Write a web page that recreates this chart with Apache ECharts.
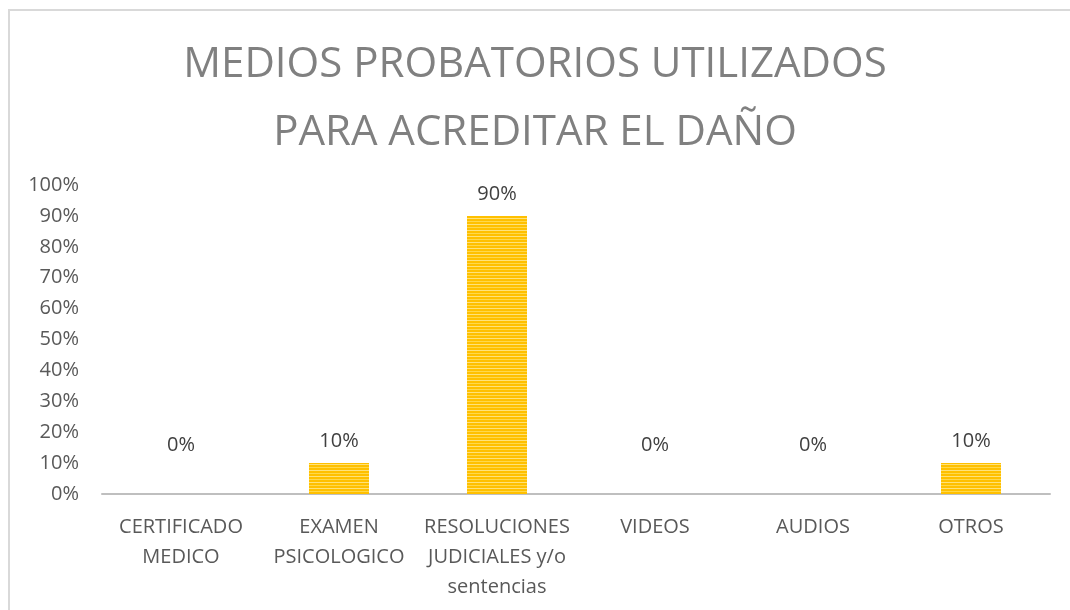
<!DOCTYPE html>
<html><head><meta charset="utf-8">
<script src="https://cdn.jsdelivr.net/npm/echarts@6/dist/echarts.min.js"></script>
<style>html,body{margin:0;padding:0;background:#fff}#c{width:1070px;height:610px}
#frame{position:absolute;left:8px;top:9px;width:1070px;height:610px;border-left:2px solid #d9d9d9;border-top:2px solid #d9d9d9;pointer-events:none}</style>
</head><body><div id="c"></div><div id="frame"></div>
<script>
const titleText = 'MEDIOS PROBATORIOS UTILIZADOS\nPARA ACREDITAR EL DAÑO';
const categories = ['CERTIFICADO\nMEDICO', 'EXAMEN\nPSICOLOGICO', 'RESOLUCIONES\nJUDICIALES y/o\nsentencias', 'VIDEOS', 'AUDIOS', 'OTROS'];
const values = [0, 10, 90, 0, 0, 10];
const yTicks = [0, 10, 20, 30, 40, 50, 60, 70, 80, 90, 100];

function stripes() {
  const cv = document.createElement('canvas');
  cv.width = 8; cv.height = 6;
  const g = cv.getContext('2d');
  g.fillStyle = '#ffc000'; g.fillRect(0, 0, 8, 6);
  g.fillStyle = '#ffe27a'; g.fillRect(0, 2, 8, 1);
  g.fillStyle = '#ffd84a'; g.fillRect(0, 5, 8, 1);
  return cv;
}
const chart = echarts.init(document.getElementById('c'));
chart.setOption({
  backgroundColor: '#fff',
  title: {
    text: titleText, left: 'center', top: 26,
    textStyle: { fontFamily: 'Open Sans', fontWeight: 'normal', fontSize: 42, color: '#808080', lineHeight: 68 }
  },
  grid: { left: 102, right: 20, top: 185, bottom: 116 },
  xAxis: {
    type: 'category', data: categories,
    axisLine: { lineStyle: { color: '#bfbfbf', width: 2 } },
    axisTick: { show: false },
    axisLabel: { color: '#595959', fontFamily: 'Open Sans', fontSize: 20, lineHeight: 30, margin: 18, interval: 0 }
  },
  yAxis: {
    type: 'value', min: yTicks[0], max: yTicks[yTicks.length - 1], interval: 10,
    splitLine: { show: false }, axisLine: { show: false }, axisTick: { show: false },
    axisLabel: { color: '#595959', fontFamily: 'Open Sans', fontSize: 20, margin: 23, formatter: v => v + '%' }
  },
  series: [{
    type: 'bar', barWidth: 60,
    itemStyle: { color: { image: stripes(), repeat: 'repeat' } },
    label: { show: true, position: 'top', distance: 12, color: '#404040', fontFamily: 'Open Sans', fontSize: 20, formatter: p => p.value + '%' },
    data: values.map(v => v === 0 ? { value: v, label: { offset: [0, -27] } } : v)
  }]
});
</script></body></html>
